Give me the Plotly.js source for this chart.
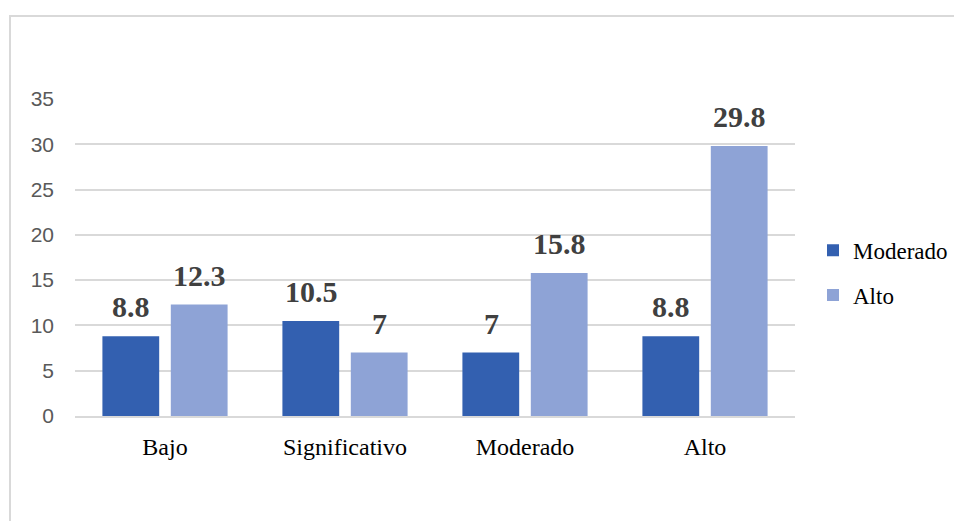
<!DOCTYPE html>
<html><head><meta charset="utf-8">
<script src="https://cdn.plot.ly/plotly-3.0.1.min.js"></script>
<style>
html,body{margin:0;padding:0;width:954px;height:521px;overflow:hidden;background:#fff;}
#frame{position:absolute;left:9px;top:15px;width:1000px;height:600px;border:2px solid #d9d9d9;box-sizing:border-box;}
#chart{position:absolute;left:0;top:0;width:954px;height:521px;}
</style></head>
<body>
<div id="frame"></div>
<div id="chart"></div>
<script>
const categories = ["Bajo", "Significativo", "Moderado", "Alto"];
const seriesNames = ["Moderado", "Alto"];
const moderadoValues = [8.8, 10.5, 7, 8.8];
const altoValues = [12.3, 7, 15.8, 29.8];
const yTicks = [0, 5, 10, 15, 20, 25, 30, 35];

const colors = ["#3360b0", "#8ea3d6"];
const serif = "Liberation Serif, Times New Roman, serif";

const traces = [moderadoValues, altoValues].map((vals, i) => ({
  type: "bar",
  name: seriesNames[i],
  legendgroup: "g" + i,
  x: categories,
  y: vals,
  marker: {color: colors[i], line: {width: 0}},
  hoverinfo: "x+y"
}));

const annotations = [];
[moderadoValues, altoValues].forEach((vals, i) => {
  vals.forEach((v, j) => {
    annotations.push({
      x: categories[j], y: v, xref: "x", yref: "y",
      text: String(v), showarrow: false,
      xanchor: "center", yanchor: "bottom",
      xshift: i === 0 ? -34 : 34, yshift: 11,
      font: {family: serif, size: 30, color: "#404040", weight: "bold"}
    });
  });
});

const layout = {
  width: 954, height: 521,
  margin: {l: 75, r: 159, t: 99, b: 105, autoexpand: false},
  paper_bgcolor: "rgba(0,0,0,0)",
  plot_bgcolor: "rgba(0,0,0,0)",
  barmode: "group",
  bargap: 0.24,
  bargroupgap: 0.17,
  showlegend: true,
  legend: {
    x: 1.025, y: 0.452, xanchor: "left", yanchor: "middle",
    font: {family: serif, size: 23, color: "#000"},
    traceorder: "grouped", tracegroupgap: 12,
    itemwidth: 30
  },
  xaxis: {
    type: "category",
    tickfont: {family: serif, size: 24, color: "#000"},
    showgrid: false, showline: true, linecolor: "#d9d9d9", linewidth: 2,
    ticks: "", ticklabelstandoff: 8
  },
  yaxis: {
    range: [0, 35], tickvals: yTicks,
    tickfont: {family: "Liberation Sans, Arial, sans-serif", size: 21, color: "#595959"},
    showgrid: true, gridcolor: "#d9d9d9", gridwidth: 2,
    zeroline: false, showline: false, ticks: "",
    ticklabelstandoff: 20
  },
  annotations: annotations
};

Plotly.newPlot("chart", traces, layout, {displayModeBar: false, staticPlot: true});
</script>
</body></html>
